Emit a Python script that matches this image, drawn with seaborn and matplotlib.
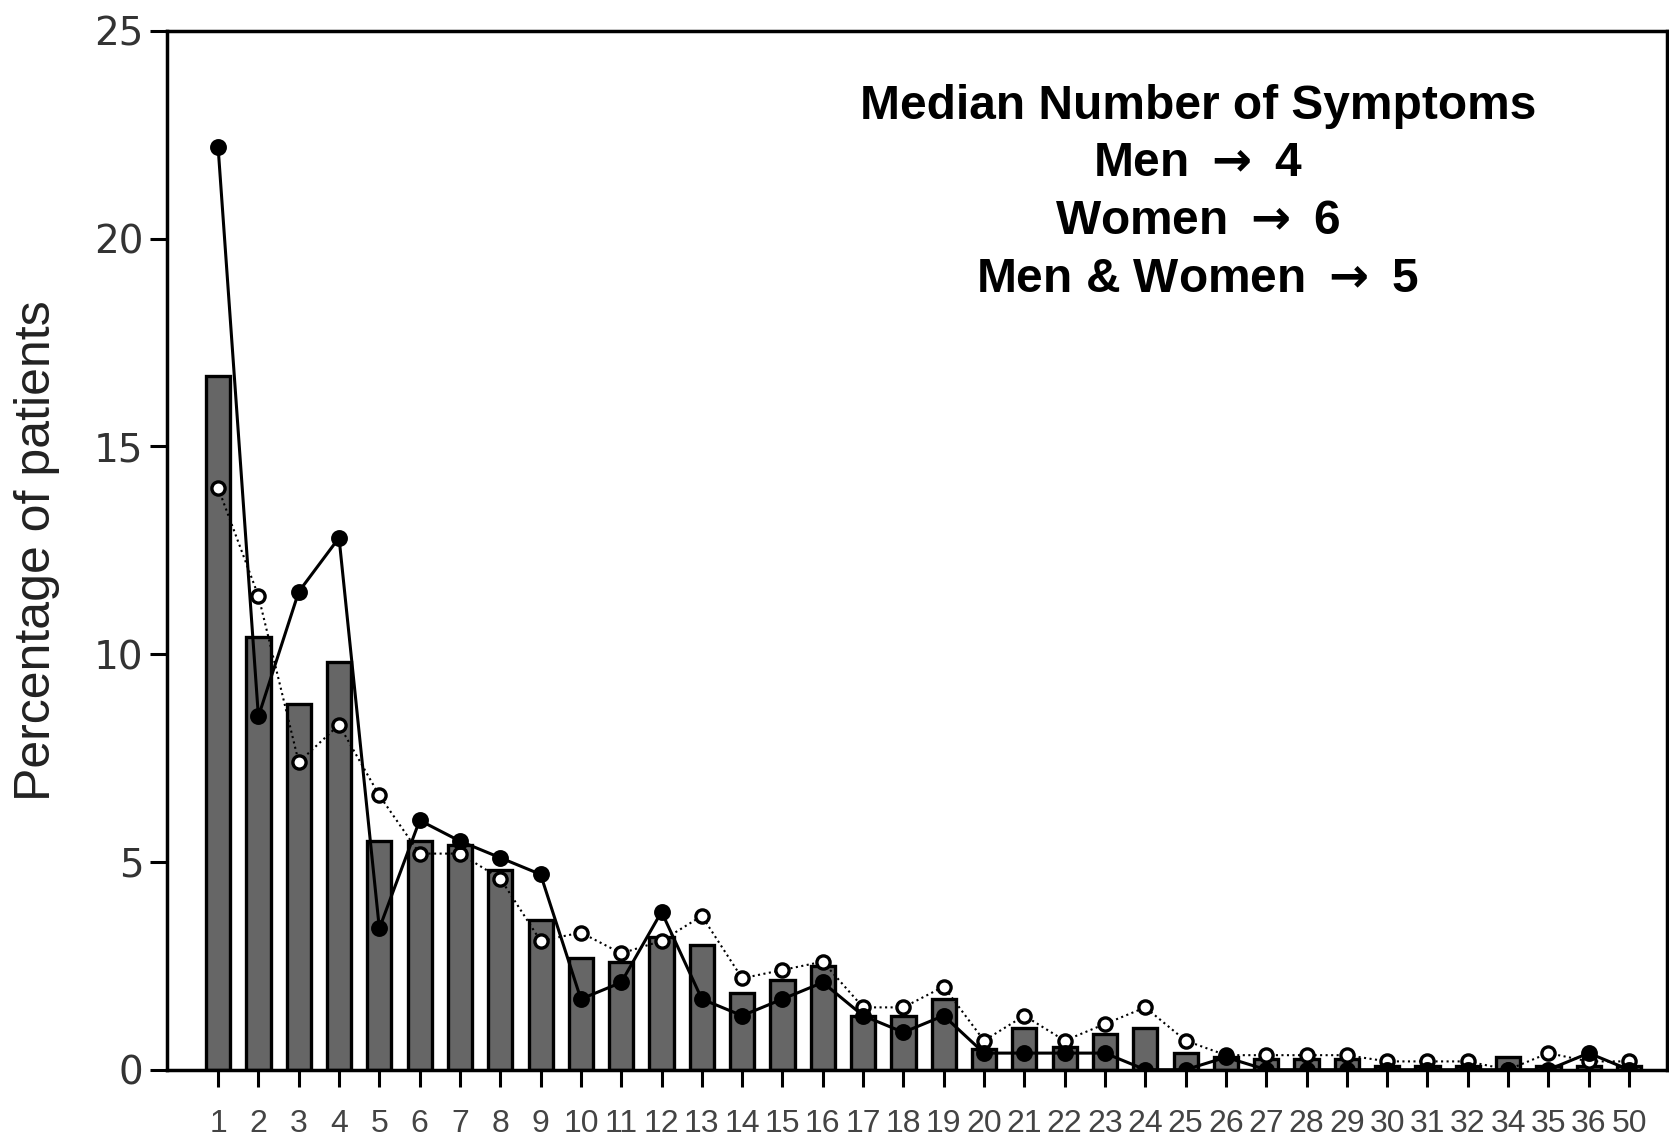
import pandas as pd
import matplotlib
matplotlib.use("Agg")
import matplotlib.pyplot as plt
import seaborn as sb

# number of symptoms (33 is missing in the original chart)
symptoms = [str(i) for i in range(1, 33)] + ["34", "35", "36", "50"]

# men & women together (bars)
both = [16.7, 10.4, 8.8, 9.8, 5.5, 5.5, 5.4, 4.8, 3.6, 2.7,
        2.6, 3.2, 3.0, 1.85, 2.15, 2.5, 1.3, 1.3, 1.7, 0.5,
        1.0, 0.55, 0.85, 1.0, 0.4, 0.3, 0.25, 0.25, 0.25, 0.1,
        0.1, 0.1, 0.3, 0.1, 0.1, 0.1]

# men (black dots, solid line)
men = [22.2, 8.5, 11.5, 12.8, 3.4, 6.0, 5.5, 5.1, 4.7, 1.7,
       2.1, 3.8, 1.7, 1.3, 1.7, 2.1, 1.3, 0.9, 1.3, 0.4,
       0.4, 0.4, 0.4, 0.0, 0.0, 0.3, 0.0, 0.0, 0.0, 0.0,
       0.0, 0.0, 0.0, 0.0, 0.4, 0.0]

# women (open circles, dotted line)
women = [14.0, 11.4, 7.4, 8.3, 6.6, 5.2, 5.2, 4.6, 3.1, 3.3,
         2.8, 3.1, 3.7, 2.2, 2.4, 2.6, 1.5, 1.5, 2.0, 0.7,
         1.3, 0.7, 1.1, 1.5, 0.7, 0.35, 0.35, 0.35, 0.35, 0.2,
         0.2, 0.2, 0.0, 0.4, 0.2, 0.2]

arrow = r"$\mathbf{\rightarrow}$"
annotation = ("Median Number of Symptoms\n"
              f"Men {arrow} 4\n"
              f"Women {arrow} 6\n"
              f"Men & Women {arrow} 5")


def main():
    sb.set_style("ticks")
    plt.rcParams['font.family'] = ['Liberation Sans', 'DejaVu Sans']
    plt.rcParams['mathtext.fontset'] = 'dejavusans'

    df = pd.DataFrame({"symptoms": symptoms, "both": both, "men": men, "women": women})

    fig = plt.figure(figsize=(16.69, 11.38), dpi=100)
    ax = fig.add_axes([0.100, 0.060, 0.899, 0.913])

    sb.barplot(data=df, x="symptoms", y="both", order=symptoms, color="#666666",
               width=0.6, edgecolor="black", linewidth=2.4, saturation=1, ax=ax, zorder=2)

    sb.pointplot(data=df, x="symptoms", y="women", order=symptoms, color="black",
                 linestyles=":", errorbar=None, ax=ax, markersize=9.5,
                 markerfacecolor="white", markeredgecolor="black", markeredgewidth=2.4,
                 linewidth=1.5, zorder=3)

    sb.pointplot(data=df, x="symptoms", y="men", order=symptoms, color="black",
                 linestyles="-", errorbar=None, ax=ax, markersize=10.5,
                 linewidth=2.2, zorder=4)

    ax.set_xlim(-1.27, 35.95)
    ax.set_ylim(0, 25)
    ax.set_yticks([0, 5, 10, 15, 20, 25])
    ax.set_xlabel("")
    ax.set_ylabel("Percentage of patients", fontsize=36, labelpad=24, color="#222222")

    for side in ["left", "right", "top", "bottom"]:
        ax.spines[side].set_linewidth(2.5)
        ax.spines[side].set_color("black")

    ax.tick_params(axis="x", length=12, width=2.2, labelsize=23, pad=16, colors="black",
                   labelcolor="#444444")
    ax.tick_params(axis="y", length=12, width=2.2, pad=5, colors="black")
    for lab in ax.get_yticklabels():
        lab.set_fontfamily("DejaVu Sans")
        lab.set_fontsize(28)
        lab.set_color("#333333")

    ax.text(0.687, 0.949, annotation, transform=ax.transAxes, ha="center", va="top",
            fontsize=34.5, fontweight="bold", linespacing=1.36, color="black",
            family=['Liberation Sans', 'DejaVu Sans'])

    fig.savefig("out.png", dpi=100)
    plt.close(fig)


if "__main__" == __name__:
    main()
